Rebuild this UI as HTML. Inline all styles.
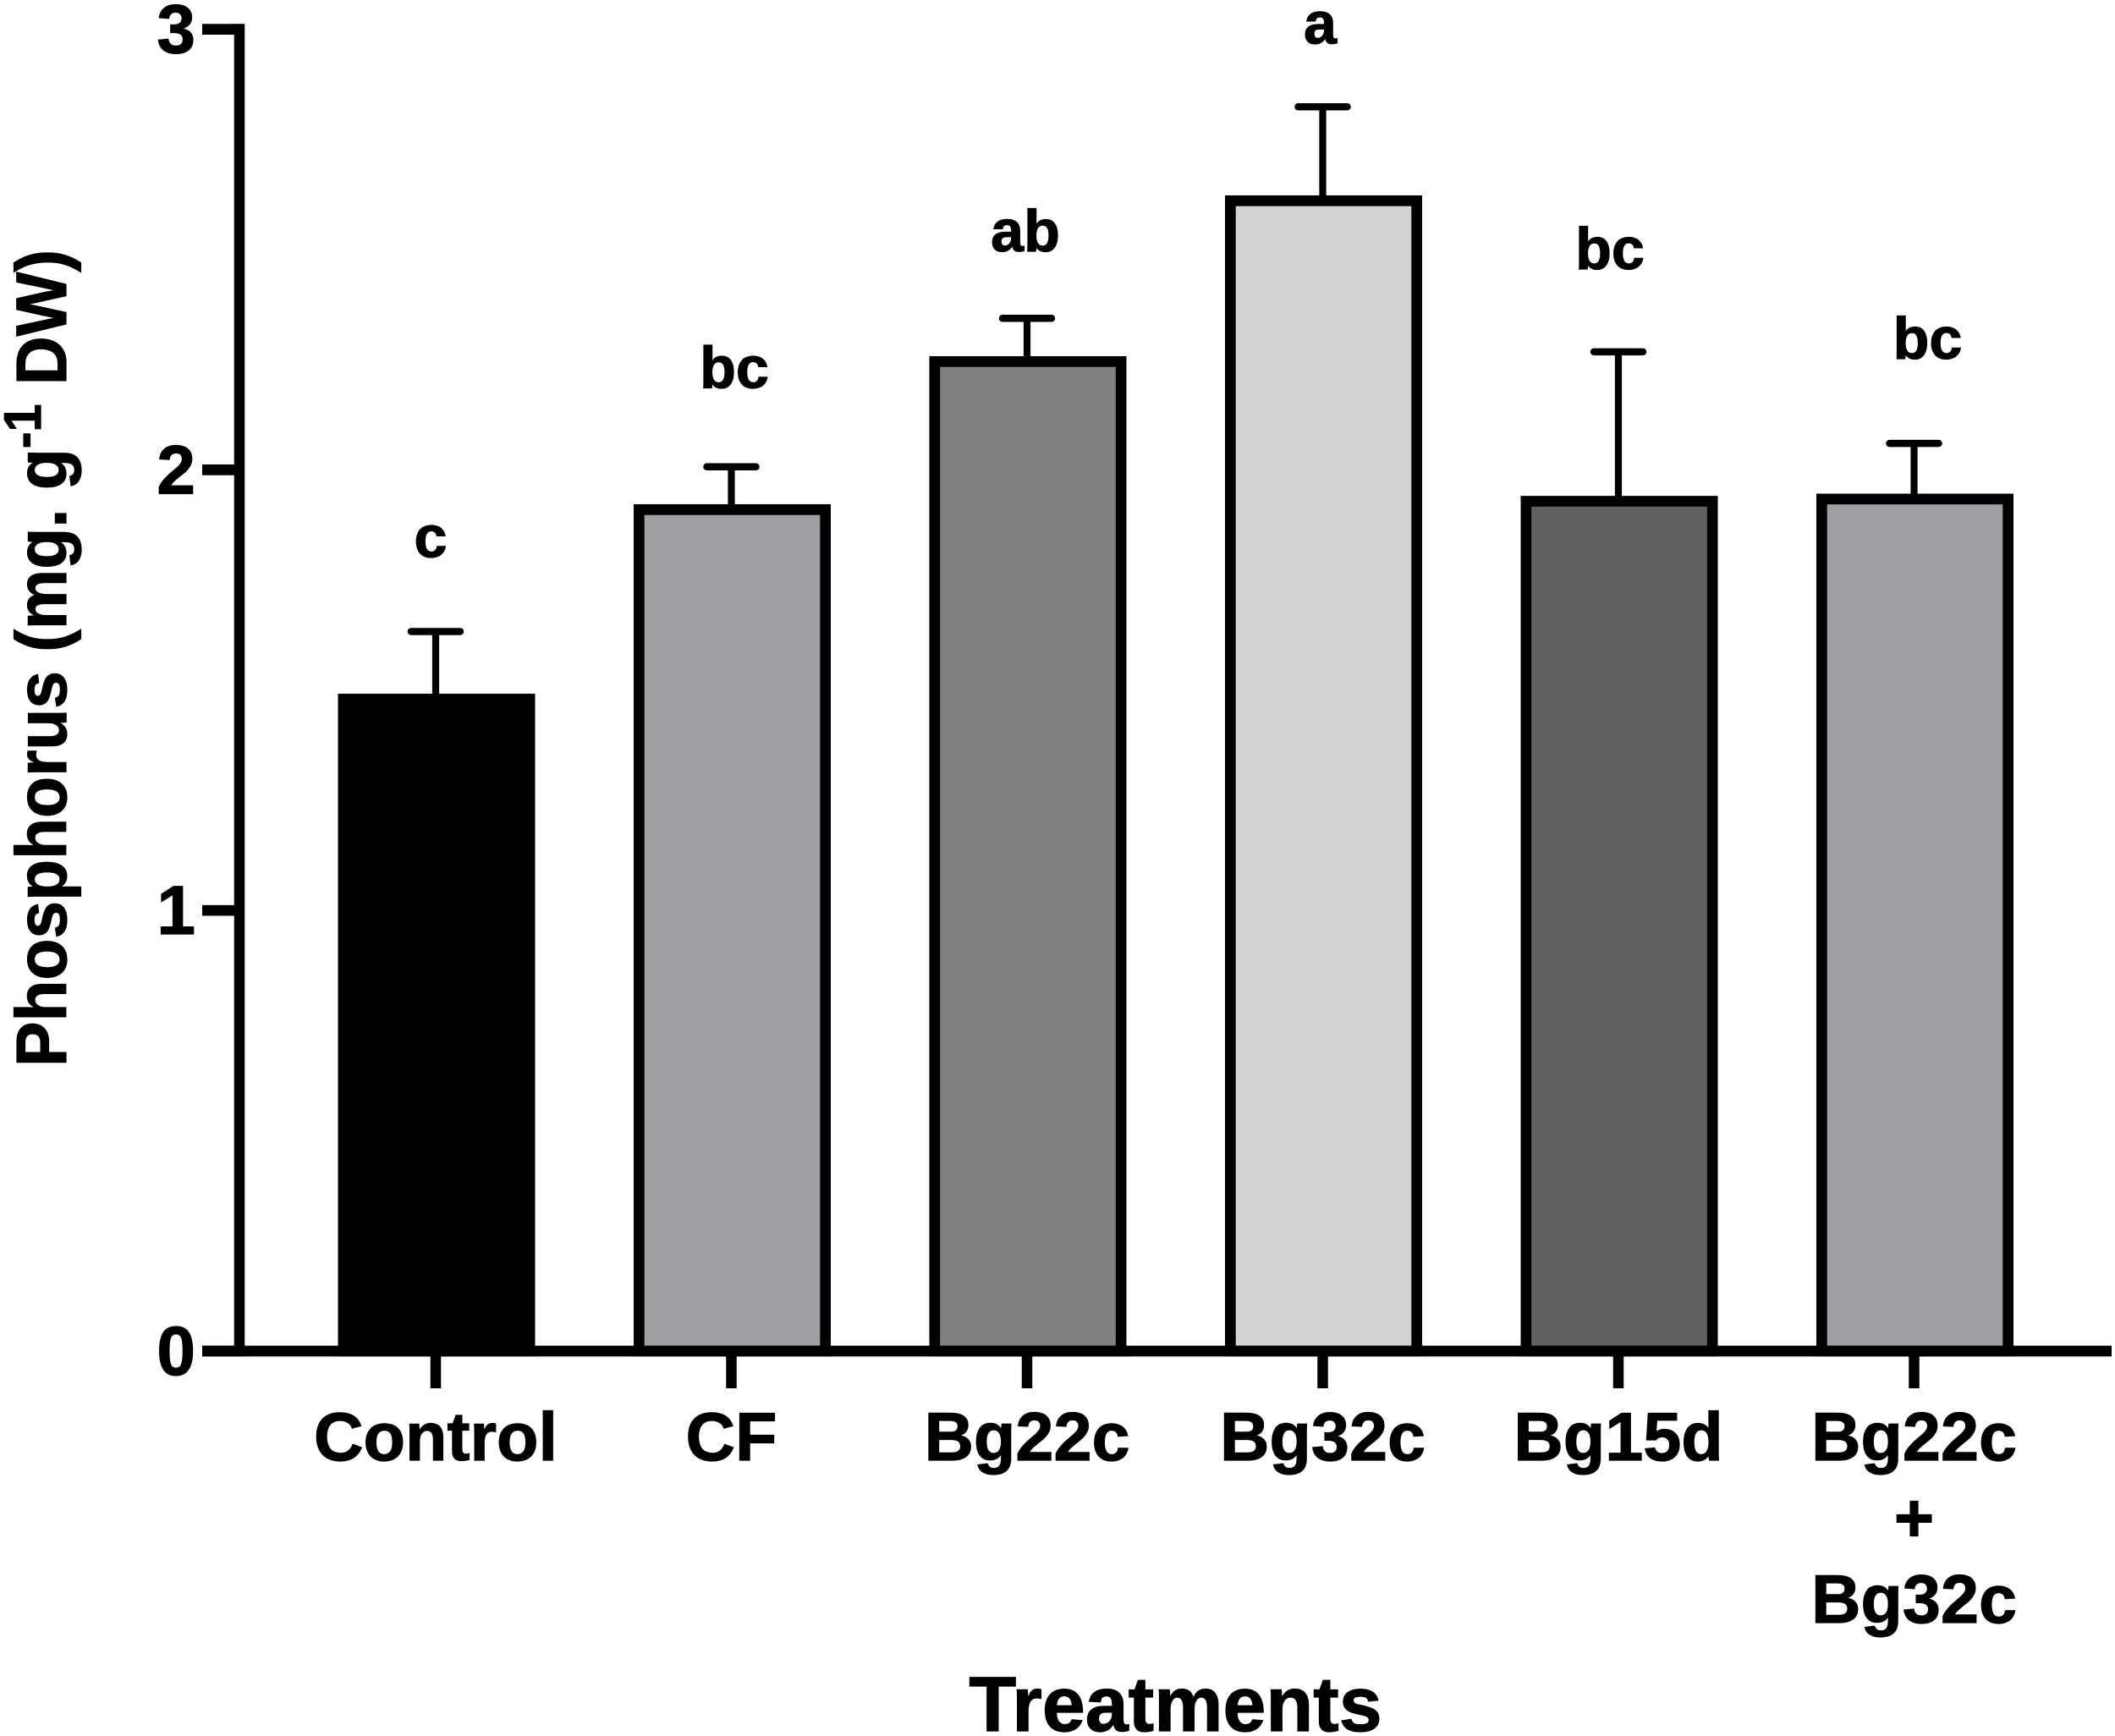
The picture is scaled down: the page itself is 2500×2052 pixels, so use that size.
<!DOCTYPE html>
<html lang="en">
<head>
<meta charset="utf-8">
<title>Phosphorus by treatment</title>
<style>
  html, body { margin: 0; padding: 0; background: #ffffff; }
  svg { display: block; }
  text { font-family: "Liberation Sans", Arial, sans-serif; font-weight: bold; fill: #000000; stroke: #000000; stroke-width: 1.2px; }
</style>
</head>
<body>
<svg id="chart" xmlns="http://www.w3.org/2000/svg" width="2500" height="2052" viewBox="0 0 2500 2052">
  <rect x="0" y="0" width="2500" height="2052" fill="#ffffff"/>
  <g id="bars"></g>
  <g id="errors"></g>
  <g id="axes"></g>
  <g id="letters"></g>
  <text transform="translate(78,1261) rotate(-90) scale(0.955,1)" font-size="84">Phosphorus (mg. g<tspan dy="-30" font-size="62">-1</tspan><tspan dy="30"> DW)</tspan></text>
  <text x="1389.5" y="2046" text-anchor="middle" font-size="91.5">Treatments</text>
</svg>
<script>
const categories = ['Control', 'CF', 'Bg22c', 'Bg32c', 'Bg15d', 'Bg22c\n+\nBg32c'];
const means = [1.492, 1.922, 2.258, 2.623, 1.941, 1.946];
const errors = [0.141, 0.085, 0.086, 0.201, 0.327, 0.114];
const groupLetters = ['c', 'bc', 'ab', 'a', 'bc', 'bc'];
const barFills = ['#000000', '#a09fa4', '#808080', '#d3d3d3', '#616161', '#a09fa4'];
const yTicks = [0, 1, 2, 3];

const NS = 'http://www.w3.org/2000/svg';
const X_FIRST = 515, X_STEP = 349.5;
const Y_ZERO = 1597, Y_UNIT = 520.8;
const BAR_W = 233, BORDER = 12.7;

function xPos(i) { return X_FIRST + X_STEP * i; }
function yPos(v) { return Y_ZERO - Y_UNIT * v; }
function make(tag, parent, props) {
  const el = document.createElementNS(NS, tag);
  for (const k in props) el.setAttribute(k, props[k]);
  parent.appendChild(el);
  return el;
}

const barsG = document.getElementById('bars');
const errorsG = document.getElementById('errors');
const axesG = document.getElementById('axes');
const lettersG = document.getElementById('letters');

categories.forEach(function (cat, i) {
  const cx = xPos(i) + 1;
  const top = yPos(means[i]);
  const rect = make('rect', barsG, {
    x: cx - BAR_W / 2 + BORDER / 2,
    y: top + BORDER / 2,
    width: BAR_W - BORDER,
    height: Y_ZERO - top - BORDER / 2,
    fill: barFills[i],
    stroke: '#000000',
    'stroke-width': BORDER
  });
  
  

  const errTop = yPos(means[i] + errors[i]);
  const stem = make('line', errorsG, {
    x1: xPos(i), x2: xPos(i), y1: top + 2, y2: errTop,
    stroke: '#000000', 'stroke-width': 8.2
  });
  
  
  const cap = make('line', errorsG, {
    x1: xPos(i) - 29, x2: xPos(i) + 29, y1: errTop, y2: errTop,
    stroke: '#000000', 'stroke-width': 8.5, 'stroke-linecap': 'round'
  });
  
  

  const tick = make('line', axesG, {
    x1: xPos(i), x2: xPos(i), y1: Y_ZERO, y2: 1641,
    stroke: '#000000', 'stroke-width': 12.5
  });
  
  

  cat.split('\n').forEach(function (line, n) {
    const label = make('text', axesG, {
      x: xPos(i), y: 1726 + 96 * n, 'text-anchor': 'middle', 'font-size': 81
    });
    label.textContent = line;
    
    
  });
});

yTicks.forEach(function (v) {
  const tick = make('line', axesG, {
    x1: 239, x2: 283, y1: yPos(v), y2: yPos(v),
    stroke: '#000000', 'stroke-width': 12.7
  });
  
  
  const label = make('text', axesG, {
    x: 231, y: yPos(v) + 28, 'text-anchor': 'end', 'font-size': 82
  });
  label.textContent = String(v);
  
  
});

const yAxis = make('line', axesG, {
  x1: 283, x2: 283, y1: yPos(yTicks[yTicks.length - 1]) - 6.35, y2: Y_ZERO + 6.35,
  stroke: '#000000', 'stroke-width': 12.5
});


const xAxis = make('line', axesG, {
  x1: 239, x2: 2496, y1: Y_ZERO, y2: Y_ZERO,
  stroke: '#000000', 'stroke-width': 12.7
});



function placeLetter(i, shiftX, gapAbove) {
  const t = make('text', lettersG, {
    x: xPos(i) + shiftX,
    y: yPos(means[i] + errors[i]) - gapAbove,
    'text-anchor': 'middle',
    'font-size': 70
  });
  t.textContent = groupLetters[i];
  
  
}
placeLetter(0, -6, 88);
placeLetter(1, 3.5, 93.5);
placeLetter(2, -2, 79);
placeLetter(3, -3, 75);
placeLetter(4, -10, 98);
placeLetter(5, 16, 100);
</script>
</body>
</html>
